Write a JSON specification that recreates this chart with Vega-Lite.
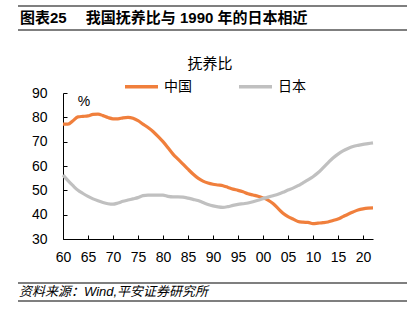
{
  "$schema": "https://vega.github.io/schema/vega-lite/v6.json",
  "padding": {"left": 17, "top": 5, "right": 9, "bottom": 4},
  "spacing": 18,
  "background": "white",
  "resolve": {"scale": {"color": "independent"}, "legend": {"color": "independent"}},
  "config": {
    "font": "Liberation Sans, Noto Sans CJK SC",
    "view": {"stroke": null},
    "axis": {"labelFont": "Liberation Sans", "labelColor": "#000", "domainColor": "#000", "tickColor": "#000", "grid": false, "labelOverlap": false}
  },
  "datasets": {
    "ratio": [
      {"year": 1960, "country": "中国", "value": 77.2}, {"year": 1961, "country": "中国", "value": 77.2}, {"year": 1962, "country": "中国", "value": 78.6}, {"year": 1963, "country": "中国", "value": 80.2}, {"year": 1964, "country": "中国", "value": 80.4}, {"year": 1965, "country": "中国", "value": 80.6}, {"year": 1966, "country": "中国", "value": 81.2}, {"year": 1967, "country": "中国", "value": 81.3}, {"year": 1968, "country": "中国", "value": 80.7}, {"year": 1969, "country": "中国", "value": 79.9}, {"year": 1970, "country": "中国", "value": 79.4}, {"year": 1971, "country": "中国", "value": 79.4}, {"year": 1972, "country": "中国", "value": 79.8}, {"year": 1973, "country": "中国", "value": 80.0}, {"year": 1974, "country": "中国", "value": 79.6}, {"year": 1975, "country": "中国", "value": 78.6}, {"year": 1976, "country": "中国", "value": 77.2}, {"year": 1977, "country": "中国", "value": 75.8}, {"year": 1978, "country": "中国", "value": 74.2}, {"year": 1979, "country": "中国", "value": 72.2}, {"year": 1980, "country": "中国", "value": 70.0}, {"year": 1981, "country": "中国", "value": 67.5}, {"year": 1982, "country": "中国", "value": 64.9}, {"year": 1983, "country": "中国", "value": 62.8}, {"year": 1984, "country": "中国", "value": 60.8}, {"year": 1985, "country": "中国", "value": 58.7}, {"year": 1986, "country": "中国", "value": 56.7}, {"year": 1987, "country": "中国", "value": 55.0}, {"year": 1988, "country": "中国", "value": 53.8}, {"year": 1989, "country": "中国", "value": 53.0}, {"year": 1990, "country": "中国", "value": 52.5}, {"year": 1991, "country": "中国", "value": 52.2}, {"year": 1992, "country": "中国", "value": 51.9}, {"year": 1993, "country": "中国", "value": 51.2}, {"year": 1994, "country": "中国", "value": 50.5}, {"year": 1995, "country": "中国", "value": 50.0}, {"year": 1996, "country": "中国", "value": 49.4}, {"year": 1997, "country": "中国", "value": 48.6}, {"year": 1998, "country": "中国", "value": 48.1}, {"year": 1999, "country": "中国", "value": 47.6}, {"year": 2000, "country": "中国", "value": 46.9}, {"year": 2001, "country": "中国", "value": 46.0}, {"year": 2002, "country": "中国", "value": 44.6}, {"year": 2003, "country": "中国", "value": 42.6}, {"year": 2004, "country": "中国", "value": 40.6}, {"year": 2005, "country": "中国", "value": 39.2}, {"year": 2006, "country": "中国", "value": 38.2}, {"year": 2007, "country": "中国", "value": 37.2}, {"year": 2008, "country": "中国", "value": 36.9}, {"year": 2009, "country": "中国", "value": 36.8}, {"year": 2010, "country": "中国", "value": 36.3}, {"year": 2011, "country": "中国", "value": 36.5}, {"year": 2012, "country": "中国", "value": 36.7}, {"year": 2013, "country": "中国", "value": 37.0}, {"year": 2014, "country": "中国", "value": 37.6}, {"year": 2015, "country": "中国", "value": 38.2}, {"year": 2016, "country": "中国", "value": 39.2}, {"year": 2017, "country": "中国", "value": 40.2}, {"year": 2018, "country": "中国", "value": 41.1}, {"year": 2019, "country": "中国", "value": 41.9}, {"year": 2020, "country": "中国", "value": 42.4}, {"year": 2021, "country": "中国", "value": 42.7}, {"year": 2022, "country": "中国", "value": 42.8},
      {"year": 1960, "country": "日本", "value": 56.3}, {"year": 1961, "country": "日本", "value": 54.0}, {"year": 1962, "country": "日本", "value": 51.9}, {"year": 1963, "country": "日本", "value": 50.0}, {"year": 1964, "country": "日本", "value": 48.7}, {"year": 1965, "country": "日本", "value": 47.5}, {"year": 1966, "country": "日本", "value": 46.5}, {"year": 1967, "country": "日本", "value": 45.7}, {"year": 1968, "country": "日本", "value": 45.0}, {"year": 1969, "country": "日本", "value": 44.5}, {"year": 1970, "country": "日本", "value": 44.3}, {"year": 1971, "country": "日本", "value": 44.8}, {"year": 1972, "country": "日本", "value": 45.5}, {"year": 1973, "country": "日本", "value": 46.0}, {"year": 1974, "country": "日本", "value": 46.5}, {"year": 1975, "country": "日本", "value": 47.0}, {"year": 1976, "country": "日本", "value": 47.8}, {"year": 1977, "country": "日本", "value": 48.0}, {"year": 1978, "country": "日本", "value": 48.0}, {"year": 1979, "country": "日本", "value": 48.0}, {"year": 1980, "country": "日本", "value": 48.0}, {"year": 1981, "country": "日本", "value": 47.5}, {"year": 1982, "country": "日本", "value": 47.3}, {"year": 1983, "country": "日本", "value": 47.3}, {"year": 1984, "country": "日本", "value": 47.2}, {"year": 1985, "country": "日本", "value": 46.8}, {"year": 1986, "country": "日本", "value": 46.3}, {"year": 1987, "country": "日本", "value": 45.8}, {"year": 1988, "country": "日本", "value": 45.0}, {"year": 1989, "country": "日本", "value": 44.2}, {"year": 1990, "country": "日本", "value": 43.6}, {"year": 1991, "country": "日本", "value": 43.2}, {"year": 1992, "country": "日本", "value": 43.0}, {"year": 1993, "country": "日本", "value": 43.3}, {"year": 1994, "country": "日本", "value": 43.8}, {"year": 1995, "country": "日本", "value": 44.2}, {"year": 1996, "country": "日本", "value": 44.5}, {"year": 1997, "country": "日本", "value": 44.8}, {"year": 1998, "country": "日本", "value": 45.3}, {"year": 1999, "country": "日本", "value": 45.9}, {"year": 2000, "country": "日本", "value": 46.6}, {"year": 2001, "country": "日本", "value": 47.2}, {"year": 2002, "country": "日本", "value": 47.8}, {"year": 2003, "country": "日本", "value": 48.4}, {"year": 2004, "country": "日本", "value": 49.2}, {"year": 2005, "country": "日本", "value": 50.1}, {"year": 2006, "country": "日本", "value": 50.9}, {"year": 2007, "country": "日本", "value": 51.9}, {"year": 2008, "country": "日本", "value": 53.1}, {"year": 2009, "country": "日本", "value": 54.3}, {"year": 2010, "country": "日本", "value": 55.6}, {"year": 2011, "country": "日本", "value": 57.2}, {"year": 2012, "country": "日本", "value": 59.2}, {"year": 2013, "country": "日本", "value": 61.3}, {"year": 2014, "country": "日本", "value": 63.3}, {"year": 2015, "country": "日本", "value": 64.9}, {"year": 2016, "country": "日本", "value": 66.2}, {"year": 2017, "country": "日本", "value": 67.2}, {"year": 2018, "country": "日本", "value": 68.0}, {"year": 2019, "country": "日本", "value": 68.5}, {"year": 2020, "country": "日本", "value": 68.9}, {"year": 2021, "country": "日本", "value": 69.2}, {"year": 2022, "country": "日本", "value": 69.5}
    ]
  },
  "vconcat": [
    {
      "width": 344,
      "height": 33,
      "data": {"values": [{"pos": 0, "row": 0.5, "label": "图表25\u3000\u00a0我国抚养比与 1990 年的日本相近"}]},
      "encoding": {
        "x": {"field": "pos", "type": "quantitative", "scale": {"domain": [0, 1]}, "axis": null},
        "y": {"field": "row", "type": "quantitative", "scale": {"domain": [0, 1]}, "axis": null}
      },
      "layer": [
        {
          "mark": {"type": "text", "align": "left", "baseline": "middle", "dx": -43, "dy": -4.5, "fontSize": 15, "fontWeight": "bold", "color": "#000", "font": "Liberation Sans, Noto Sans CJK SC"},
          "encoding": {"text": {"field": "label"}}
        },
        {
          "mark": {"type": "rule", "color": "#000", "strokeWidth": 1.2, "xOffset": -45, "x2Offset": 0},
          "encoding": {"x": {"datum": 0}, "x2": {"datum": 1}, "y": {"datum": 1}}
        },
        {
          "mark": {"type": "rule", "color": "#000", "strokeWidth": 1.2, "xOffset": -45, "x2Offset": 0, "yOffset": -9},
          "encoding": {"x": {"datum": 0}, "x2": {"datum": 1}, "y": {"datum": 0}}
        }
      ]
    },
    {
      "width": 310,
      "height": 146,
      "title": {"text": "抚养比", "fontSize": 15, "fontWeight": "normal", "font": "Liberation Sans, Noto Sans CJK SC", "color": "#000", "anchor": "middle", "frame": "group", "dx": -8, "offset": -4},
      "layer": [
        {
          "data": {"name": "ratio"},
          "mark": {"type": "line", "strokeWidth": 3.2, "interpolate": "monotone"},
          "encoding": {
            "x": {"field": "year", "type": "quantitative", "scale": {"domain": [1960, 2022], "nice": false, "zero": false},
                  "axis": {"tickCount": 13, "labelExpr": "datum.value % 100 < 10 ? '0' + (datum.value % 100) : '' + (datum.value % 100)", "labelFontSize": 14, "tickSize": -4, "labelPadding": 15, "labelFlush": false, "labelOverlap": false, "labelSeparation": 0, "title": null}},
            "y": {"field": "value", "type": "quantitative", "scale": {"domain": [30, 90], "nice": false, "zero": false},
                  "axis": {"tickCount": 7, "labelFontSize": 14, "tickSize": -4, "labelPadding": 20, "minExtent": 45, "labelOverlap": false, "labelSeparation": 0, "title": null}},
            "color": {"field": "country", "type": "nominal", "sort": ["中国", "日本"],
                      "scale": {"domain": ["中国", "日本"], "range": ["#F07F3C", "#C0C0C0"]},
                      "legend": {"title": null, "orient": "none", "legendX": 60, "legendY": -25, "direction": "horizontal", "symbolType": "stroke", "symbolSize": 1089, "symbolStrokeWidth": 3.5, "labelFontSize": 14, "labelFont": "Liberation Sans, Noto Sans CJK SC", "labelColor": "#000", "labelOffset": 4, "columnPadding": 40}}
          }
        },
        {
          "data": {"values": [{"year": 1964.2, "value": 86.2, "label": "%"}]},
          "mark": {"type": "text", "fontSize": 14, "color": "#000", "font": "Liberation Sans"},
          "encoding": {
            "x": {"field": "year", "type": "quantitative"},
            "y": {"field": "value", "type": "quantitative"},
            "text": {"field": "label"}
          }
        }
      ]
    },
    {
      "width": 344,
      "height": 18,
      "data": {"values": [{"pos": 0, "row": 0.5, "label": "资料来源：Wind,平安证券研究所"}]},
      "encoding": {
        "x": {"field": "pos", "type": "quantitative", "scale": {"domain": [0, 1]}, "axis": null},
        "y": {"field": "row", "type": "quantitative", "scale": {"domain": [0, 1]}, "axis": null}
      },
      "layer": [
        {
          "mark": {"type": "text", "align": "left", "baseline": "middle", "dx": -44, "fontSize": 13, "fontStyle": "italic", "color": "#000", "font": "Liberation Sans, Noto Sans CJK SC"},
          "encoding": {"text": {"field": "label"}}
        },
        {
          "mark": {"type": "rule", "color": "#000", "strokeWidth": 1.2, "xOffset": -45, "x2Offset": 0},
          "encoding": {"x": {"datum": 0}, "x2": {"datum": 1}, "y": {"datum": 1}}
        },
        {
          "mark": {"type": "rule", "color": "#000", "strokeWidth": 1.2, "xOffset": -45, "x2Offset": 0},
          "encoding": {"x": {"datum": 0}, "x2": {"datum": 1}, "y": {"datum": 0}}
        }
      ]
    }
  ]
}
